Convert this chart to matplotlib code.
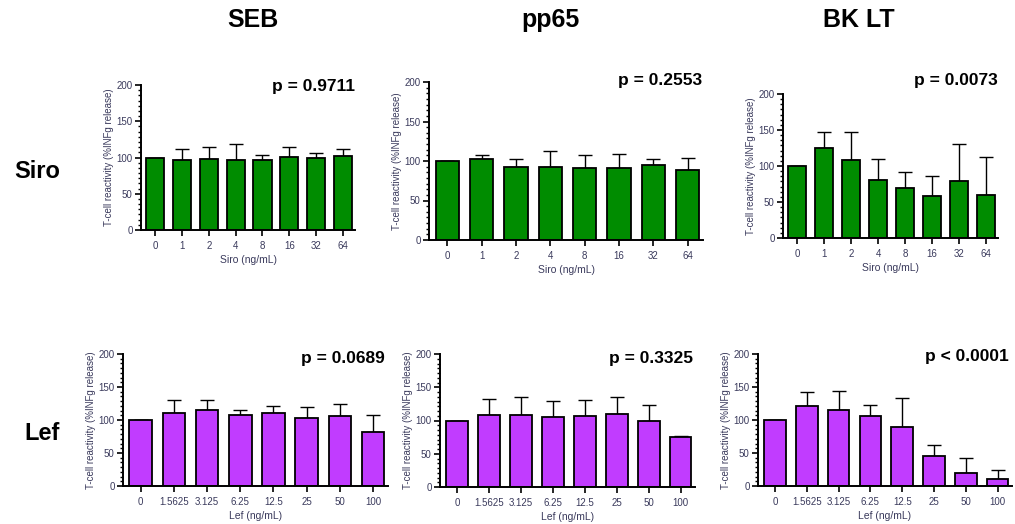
import matplotlib
matplotlib.use("Agg")
import matplotlib.pyplot as plt
from matplotlib.ticker import MultipleLocator, AutoMinorLocator

plt.rcParams['font.family'] = ['Liberation Sans', 'DejaVu Sans']

siro_doses = ["0", "1", "2", "4", "8", "16", "32", "64"]
lef_doses = ["0", "1.5625", "3.125", "6.25", "12.5", "25", "50", "100"]

# mean and upper error-bar top
seb_siro_mean = [100, 97, 97.5, 96, 96, 101, 99, 102.5]
seb_siro_top = [100, 112, 115, 119, 104, 115, 106, 112]
pp65_siro_mean = [100, 103, 92, 92, 91, 91, 95, 88]
pp65_siro_top = [100, 108, 102, 113, 108, 109, 102, 104]
bk_siro_mean = [100, 125, 109, 81, 69, 58, 79, 60]
bk_siro_top = [100, 147, 147, 110, 91, 86, 130, 113]

seb_lef_mean = [100, 110, 115, 107.5, 110, 102.5, 106.5, 82]
seb_lef_top = [100, 131, 130, 115, 121, 120, 124, 108]
pp65_lef_mean = [100, 109, 109, 106, 106.5, 110, 100, 75]
pp65_lef_top = [100, 132, 135, 130, 131, 136, 123, 77]
bk_lef_mean = [100, 121, 114.5, 106, 90, 46, 20, 10.5]
bk_lef_top = [100, 142, 144, 123, 134, 62, 43, 25]

pvals = ["p = 0.9711", "p = 0.2553", "p = 0.0073",
         "p = 0.0689", "p = 0.3325", "p < 0.0001"]
columns = ["SEB", "pp65", "BK LT"]
rows = ["Siro", "Lef"]

W, H = 1015, 524
fig = plt.figure(figsize=(W/100, H/100), dpi=100)

def px_axes(l, r, t, b):
    return fig.add_axes([l/W, 1-b/H, (r-l)/W, (b-t)/H])

panels = [
    ((141, 355, 85, 230), seb_siro_mean, seb_siro_top, siro_doses, "Siro (ng/mL)", "#008c00", (355, 86)),
    ((429, 703, 82, 240), pp65_siro_mean, pp65_siro_top, siro_doses, "Siro (ng/mL)", "#008c00", (702, 80)),
    ((783, 998, 94, 238), bk_siro_mean, bk_siro_top, siro_doses, "Siro (ng/mL)", "#008c00", (998, 80)),
    ((123, 388, 354, 486), seb_lef_mean, seb_lef_top, lef_doses, "Lef (ng/mL)", "#c13cff", (385, 358)),
    ((440, 695, 354, 487), pp65_lef_mean, pp65_lef_top, lef_doses, "Lef (ng/mL)", "#c13cff", (693, 358)),
    ((758, 1012, 354, 486), bk_lef_mean, bk_lef_top, lef_doses, "Lef (ng/mL)", "#c13cff", (1009, 357)),
]

lab_col = "#3a3a5c"
for i, (rect, mean, top, doses, xlab, col, ppos) in enumerate(panels):
    ax = px_axes(*rect)
    x = list(range(len(doses)))
    err = [t - m for t, m in zip(top, mean)]
    ax.bar(x, mean, width=0.68, color=col, edgecolor="black", linewidth=1.3, zorder=2)
    ax.errorbar(x, mean, yerr=[[0]*len(x), err], fmt="none", ecolor="black",
                elinewidth=1.0, capsize=5, capthick=1.0, zorder=1)
    ax.set_xlim(-0.53, 7.45)
    ax.set_ylim(0, 200)
    ax.yaxis.set_major_locator(MultipleLocator(50))
    ax.yaxis.set_minor_locator(AutoMinorLocator(7))
    ax.set_xticks(x)
    ax.set_xticklabels(doses)
    for s in ["top", "right"]:
        ax.spines[s].set_visible(False)
    for s in ["left", "bottom"]:
        ax.spines[s].set_linewidth(1.4)
    ax.tick_params(axis="both", which="major", direction="out", length=4, width=1.2,
                   labelsize=7, labelcolor=lab_col, pad=2)
    ax.tick_params(axis="y", which="minor", direction="out", length=2.5, width=1.0)
    ax.tick_params(axis="x", pad=4)
    ax.set_xlabel(xlab, fontsize=7.5, color=lab_col, labelpad=3)
    ax.set_ylabel("T-cell reactivity (%INFg release)", fontsize=7, color=lab_col, labelpad=2)
    fig.text(ppos[0]/W, 1-ppos[1]/H, pvals[i], ha="right", va="center",
             fontsize=12.5, fontweight="bold")

for name, cx in zip(columns, [253, 550, 859]):
    fig.text(cx/W, 1-20/H, name, ha="center", va="center", fontsize=18, fontweight="bold")
for name, (cx, cy) in zip(rows, [(37, 172), (42, 433)]):
    fig.text(cx/W, 1-cy/H, name, ha="center", va="center", fontsize=17, fontweight="bold")

fig.savefig("out.png", dpi=100)
